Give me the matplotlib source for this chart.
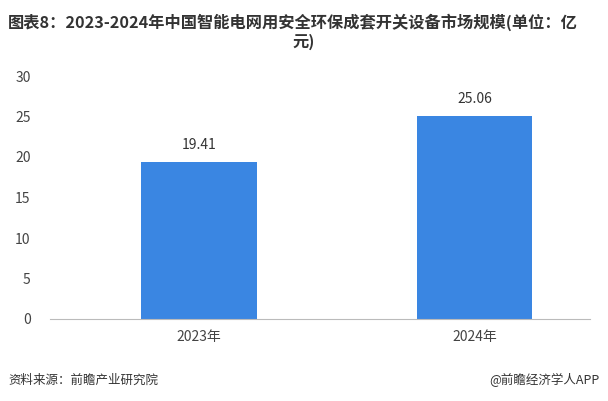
import matplotlib
matplotlib.use("Agg")
import matplotlib.pyplot as plt

plt.rcParams['font.family'] = ['Noto Sans CJK SC', 'DejaVu Sans']

categories = ["2023年", "2024年"]
values = [19.41, 25.06]
yticks = [0, 5, 10, 15, 20, 25, 30]

fig = plt.figure(figsize=(6.08, 4.01), dpi=100)
ax = fig.add_axes([50/608, 1-319/401, 540/608, (319-76)/401])
x = list(range(len(categories)))
ax.bar(x, values, width=0.417, color="#3A86E2")
for xi, v in zip(x, values):
    ax.text(xi, v + 1.2, f"{v:.2f}", ha="center", va="bottom", fontsize=10, color="#333333")
ax.set_xlim(-0.54, 1.417)
ax.set_ylim(0, 30)
ax.set_yticks(yticks)
ax.set_xticks(x)
ax.set_xticklabels(categories)
ax.tick_params(axis="both", length=0, labelsize=10, colors="#444444")
ax.tick_params(axis="y", pad=14)
ax.tick_params(axis="x", pad=8)
for s in ["top", "right", "left"]:
    ax.spines[s].set_visible(False)
ax.spines["bottom"].set_color("#BBBBBB")

fig.text(8/608, 1-22/401, "图表8：2023-2024年中国智能电网用安全环保成套开关设备市场规模(单位：亿",
         fontsize=11.7, fontweight="bold", color="#333333", va="center")
fig.text(304/608, 1-42/401, "元)", fontsize=11.7, fontweight="bold", color="#333333",
         va="center", ha="center")
fig.text(8/608, 1-380/401, "资料来源：前瞻产业研究院", fontsize=9, color="#333333", va="center")
fig.text(600/608, 1-380/401, "@前瞻经济学人APP", fontsize=9, color="#333333", va="center", ha="right")
fig.savefig("out.png", dpi=100)
